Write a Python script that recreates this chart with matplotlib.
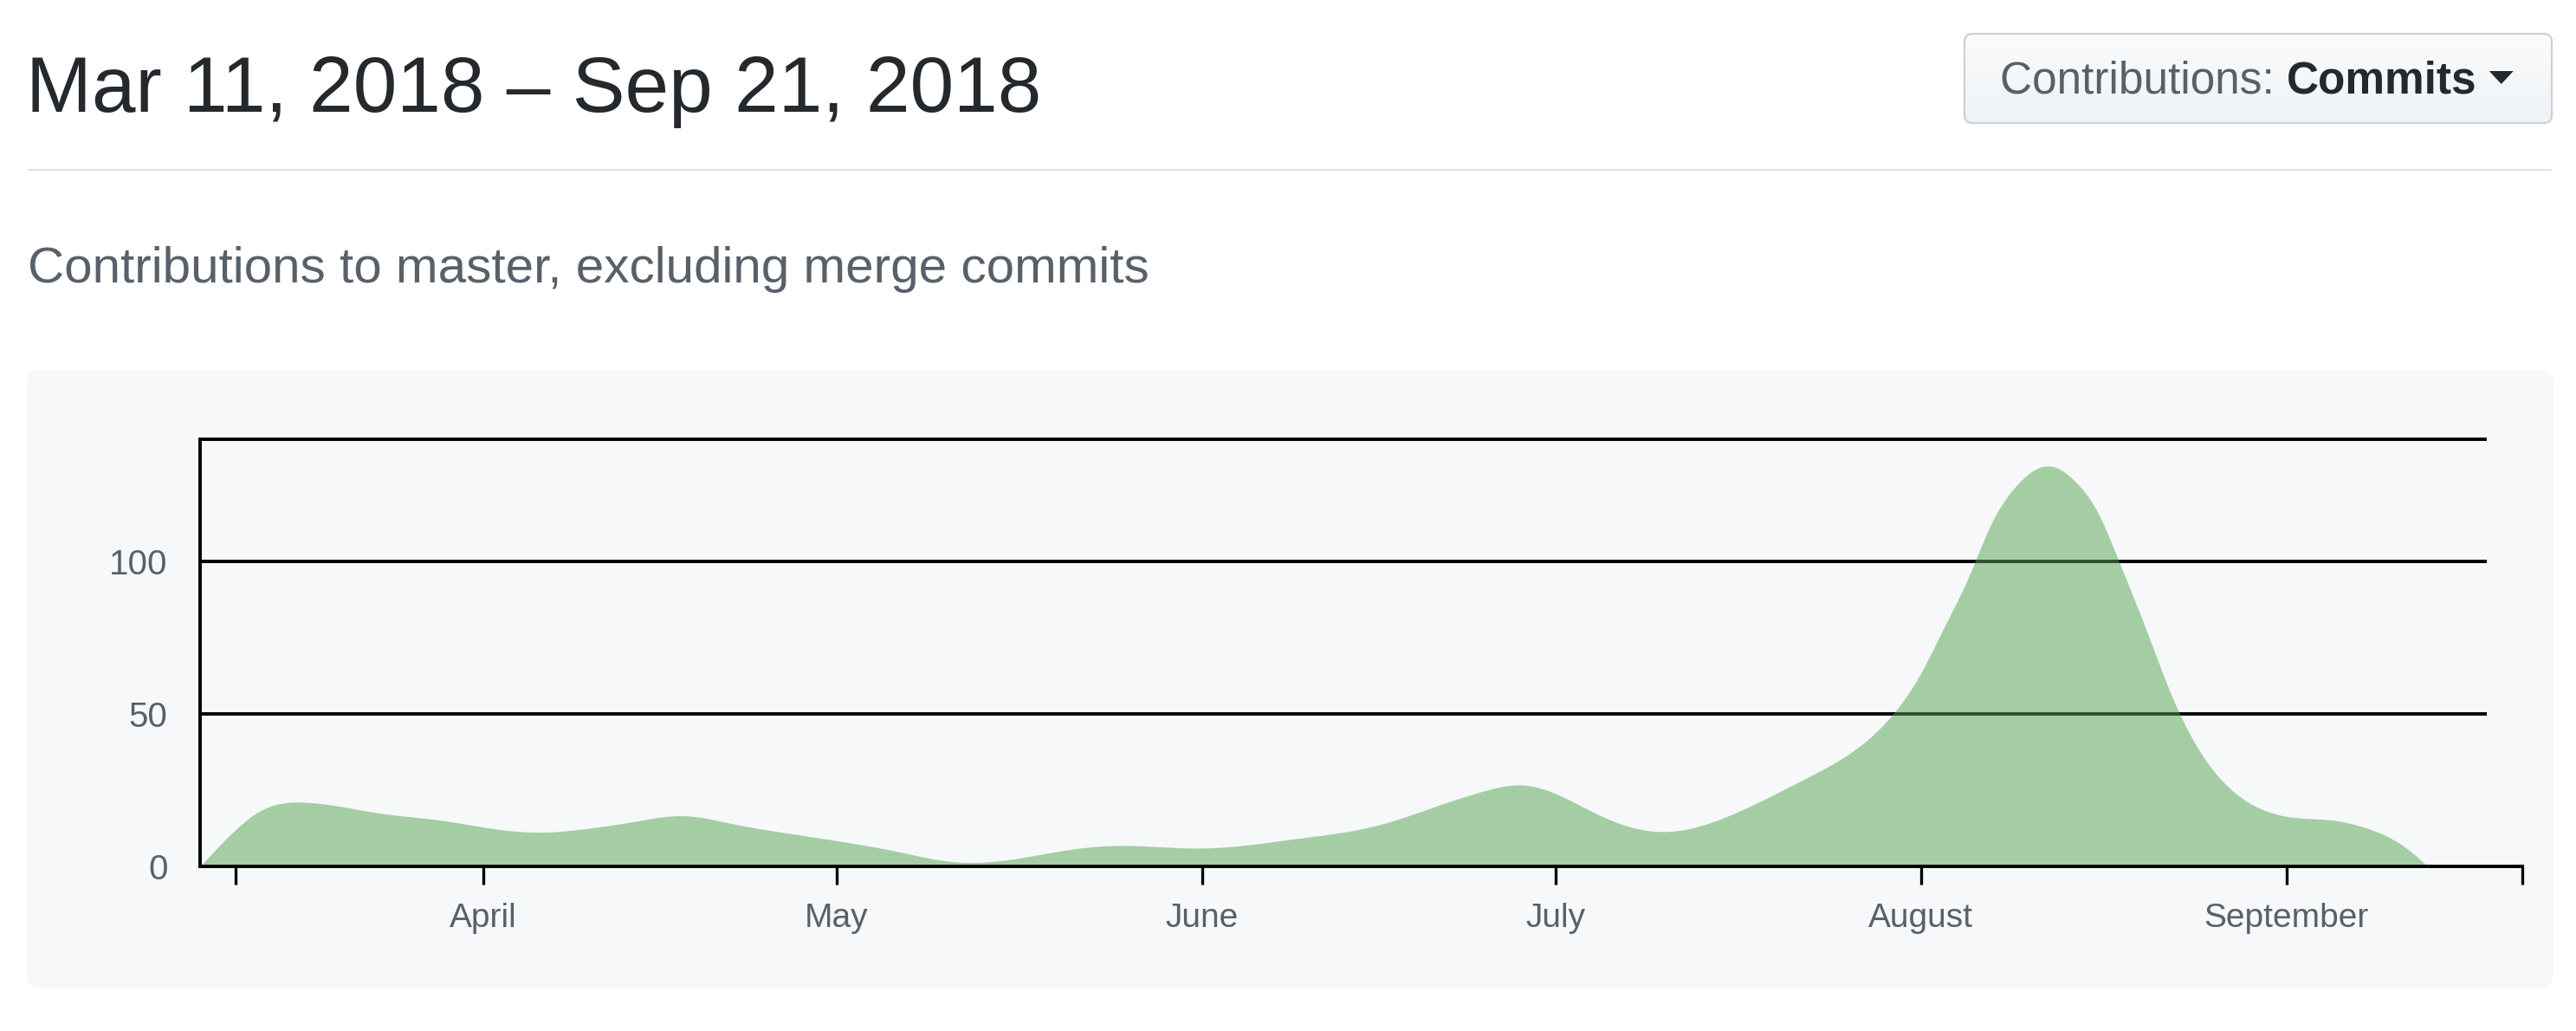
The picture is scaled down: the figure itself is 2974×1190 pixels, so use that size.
import numpy as np
import matplotlib
matplotlib.use("Agg")
import matplotlib.pyplot as plt
import matplotlib.dates as mdates
from matplotlib.patches import FancyBboxPatch, Polygon
from matplotlib.colors import LinearSegmentedColormap

plt.rcParams['font.family'] = ['Liberation Sans', 'DejaVu Sans']

# commits curve
dates = ['2018-03-08', '2018-03-11', '2018-03-13', '2018-03-17', '2018-03-19',
         '2018-03-23', '2018-03-29', '2018-04-02', '2018-04-06', '2018-04-10',
         '2018-04-14', '2018-04-18', '2018-04-22', '2018-04-27', '2018-05-02',
         '2018-05-06', '2018-05-11', '2018-05-15', '2018-05-19', '2018-05-23',
         '2018-05-26', '2018-06-01', '2018-06-09', '2018-06-16', '2018-06-21',
         '2018-06-25', '2018-06-28', '2018-06-30', '2018-07-05', '2018-07-10',
         '2018-07-16', '2018-07-22', '2018-07-27', '2018-07-30', '2018-08-01',
         '2018-08-03', '2018-08-05', '2018-08-07', '2018-08-09', '2018-08-12',
         '2018-08-14', '2018-08-16', '2018-08-18', '2018-08-20', '2018-08-22',
         '2018-08-24', '2018-08-26', '2018-08-29', '2018-09-02', '2018-09-05',
         '2018-09-08', '2018-09-11', '2018-09-13']
commits = [0, 12, 18, 21, 20.2,
           17.6, 14.8, 12.3, 11.2, 12.5,
           14.8, 16.6, 14.1, 10.8, 7.8,
           5.0, 1.5, 1.9, 4.4, 6.5,
           6.8, 6.0, 9.1, 13.6, 19.9,
           24.8, 26.7, 25.3, 16.3, 11.4,
           17.1, 28.4, 40, 51.7, 63.4,
           78.6, 94.5, 112.6, 124.4, 131.2,
           126.5, 116, 98, 78.7, 58.5,
           42, 30.5, 20.5, 15.9, 15.1,
           12.3, 6.5, 0]

tick_dates = ['2018-03-11', '2018-04-01', '2018-05-01', '2018-06-01',
              '2018-07-01', '2018-08-01', '2018-09-01', '2018-09-21']
tick_labels = ['', 'April', 'May', 'June', 'July', 'August', 'September', '']
y_ticks = [0, 50, 100]
grid_vals = [50, 100, 140]

title = 'Mar 11, 2018 \u2013 Sep 21, 2018'
subtitle = 'Contributions to master, excluding merge commits'


def spline(x, y, xn):
    # natural cubic spline, only to draw a smooth outline through the points
    n = len(x)
    h = np.diff(x)
    d = np.diff(y) / h
    A = np.zeros((n, n))
    r = np.zeros(n)
    A[0, 0] = A[-1, -1] = 1
    for i in range(1, n - 1):
        A[i, i - 1] = h[i - 1]
        A[i, i] = 2 * (h[i - 1] + h[i])
        A[i, i + 1] = h[i]
        r[i] = 6 * (d[i] - d[i - 1])
    M = np.linalg.solve(A, r)
    i = np.clip(np.searchsorted(x, xn) - 1, 0, n - 2)
    a = x[i + 1] - xn
    b = xn - x[i]
    hi = h[i]
    return (M[i] * a**3 / (6 * hi) + M[i + 1] * b**3 / (6 * hi)
            + (y[i] / hi - M[i] * hi / 6) * a + (y[i + 1] / hi - M[i + 1] * hi / 6) * b)


W, H = 2974, 1190
fig = plt.figure(figsize=(W / 100, H / 100), dpi=100)
fig.patch.set_facecolor('white')

# page layer in pixel coords
bg = fig.add_axes([0, 0, 1, 1])
bg.axis('off')

bg.text(30, 129, title, fontsize=65.5, color='#24292e', va='baseline', ha='left')
bg.plot([32, 2946], [196, 196], color='#e1e4e8', lw=1.6, solid_capstyle='butt')
bg.text(32, 326, subtitle, fontsize=42, color='#586069', va='baseline', ha='left')

panel = FancyBboxPatch((31, 427), 2917, 713, boxstyle='round,pad=0,rounding_size=16',
                       fc='#f6f8fa', ec='none')
bg.add_patch(panel)

btn = FancyBboxPatch((2268, 39), 678, 103, boxstyle='round,pad=0,rounding_size=9',
                     fc='none', ec='#cdd1d6', lw=1.6, zorder=3)
bg.add_patch(btn)
grad = np.linspace(0, 1, 100).reshape(-1, 1)
cmap = LinearSegmentedColormap.from_list('btn', ['#fafbfc', '#eff3f6'])
im = bg.imshow(grad, extent=(2268, 2946, 142, 39), cmap=cmap, aspect='auto', zorder=2)
im.set_clip_path(btn)

bg.set_xlim(0, W)
bg.set_ylim(H, 0)

t1 = bg.text(2309, 107, 'Contributions: ', fontsize=37, color='#586069', va='baseline', ha='left', zorder=4)
fig.canvas.draw()
x_end = t1.get_window_extent().x1
t2 = bg.text(x_end, 107, 'Commits', fontsize=37, color='#24292e', fontweight='bold',
             va='baseline', ha='left', zorder=4)
fig.canvas.draw()
x_end = t2.get_window_extent().x1
tri = Polygon([[x_end + 14, 82], [x_end + 42, 82], [x_end + 28, 97]], closed=True,
              fc='#24292e', ec='none', zorder=4)
bg.add_patch(tri)

# chart
ax = fig.add_axes([231 / W, 1 - 1000 / H, (2911.7 - 231) / W, (1000 - 507) / H])
ax.patch.set_visible(False)

x = mdates.datestr2num(dates)
y = np.array(commits, dtype=float)
xs = np.linspace(x[0], x[-1], 2000)
ys = np.clip(spline(x, y, xs), 0, None)

x0 = mdates.datestr2num('2018-03-08')
ax.set_xlim(x0, mdates.datestr2num('2018-09-21'))
ax.set_ylim(0, 140)

ax.hlines(grid_vals, x0, mdates.datestr2num('2018-09-18'), color='black', lw=2.8,
          zorder=2, clip_on=False)
ax.fill_between(xs, ys, 0, color='#54a44e', alpha=0.5, lw=0, zorder=3)

for s in ['top', 'right']:
    ax.spines[s].set_visible(False)
for s in ['left', 'bottom']:
    ax.spines[s].set_linewidth(2.8)
    ax.spines[s].set_color('black')
ax.spines['bottom'].set_zorder(4)

ax.set_xticks(mdates.datestr2num(tick_dates))
ax.set_xticklabels(tick_labels)
ax.set_yticks(y_ticks)
ax.minorticks_off()
ax.tick_params(axis='x', direction='out', length=15, width=2.4, color='black',
               pad=15, labelsize=28, labelcolor='#586069')
ax.tick_params(axis='y', length=0, pad=27, labelsize=29, labelcolor='#586069')

fig.savefig('out.png', dpi=100, facecolor='white')
